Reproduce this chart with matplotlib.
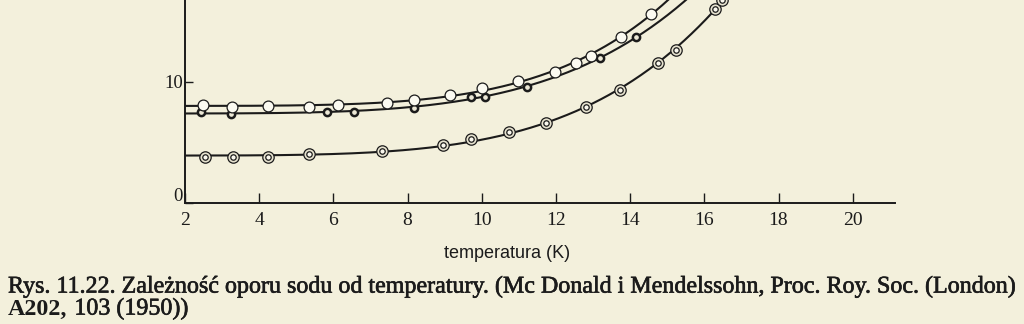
import numpy as np
import matplotlib
matplotlib.use("Agg")
import matplotlib.pyplot as plt
import matplotlib.patheffects as pe
from matplotlib.transforms import ScaledTranslation

# ---- data ----
# upper series: open circles
T_A = [2.49, 3.27, 4.23, 5.35, 6.13, 7.44, 8.18, 9.14, 10.0, 10.98, 11.97, 12.54, 12.94, 13.75, 14.56]
R_A = [8.12, 7.97, 8.01, 7.97, 8.06, 8.25, 8.55, 8.96, 9.50, 10.10, 10.84, 11.59, 12.15, 13.75, 15.66]
# middle series: small thick-ring circles
T_B = [2.42, 3.23, 5.82, 6.56, 8.18, 9.70, 10.09, 11.21, 13.19, 14.16]
R_B = [7.48, 7.38, 7.50, 7.55, 7.89, 8.78, 8.80, 9.59, 11.95, 13.73]
# lower series: double circles
T_C = [2.54, 3.30, 4.23, 5.34, 7.32, 8.96, 9.71, 10.73, 11.72, 12.80, 13.74, 14.74, 15.23, 16.29, 16.48]
R_C = [3.80, 3.83, 3.84, 4.05, 4.26, 4.79, 5.33, 5.86, 6.60, 7.93, 9.35, 11.55, 12.62, 16.00, 16.80]

x_ticks = [2, 4, 6, 8, 10, 12, 14, 16, 18, 20]
x_ticklabels = ["2", "4", "6", "8", "10", "12", "14", "16", "18", "20"]
y_ticks = [0, 10]
y_ticklabels = ["0", "10"]
x_label = "temperatura (K)"
caption_1 = ("Rys. 11.22. Zależność oporu sodu od temperatury. "
             "(Mc Donald i Mendelssohn, Proc. Roy. Soc. (London)")
caption_2a = "A202,"
caption_2b = "103 (1950))"

XMIN, XMAX = 2.0, 21.14
YMIN, YMAX = 0.0, 17.5

BG = "#f3f0dc"
INK = "#1b1b1b"


def fit_curve(T, R, x0, x1):
    """least-squares fit R = a + b*T**n (n by grid search), evaluated on [x0, x1]"""
    T = np.asarray(T, float)
    R = np.asarray(R, float)
    best = None
    for n in np.arange(2.0, 8.01, 0.05):
        X = np.column_stack([np.ones_like(T), T ** n])
        coef = np.linalg.lstsq(X, R, rcond=None)[0]
        err = np.sum((X @ coef - R) ** 2)
        if best is None or err < best[0]:
            best = (err, n, coef)
    _, n, (a, b) = best
    tg = np.linspace(x0, x1, 800)
    return tg, a + b * tg ** n


fig = plt.figure(figsize=(10.24, 3.24), dpi=100, facecolor=BG)
px_per_y = 12.1
ax_bottom = 121 / 324
ax_height = (YMAX - YMIN) * px_per_y / 324
ax = fig.add_axes([185 / 1024, ax_bottom, (895 - 185) / 1024, ax_height])
ax.set_facecolor(BG)
ax.set_xlim(XMIN, XMAX)
ax.set_ylim(YMIN, YMAX)

for s in ("top", "right"):
    ax.spines[s].set_visible(False)
for s in ("left", "bottom"):
    ax.spines[s].set_color(INK)
    ax.spines[s].set_linewidth(1.4)

# fitted curves
for T, R in ((T_A, R_A), (T_B, R_B), (T_C, R_C)):
    tg, rg = fit_curve(T, R, XMIN, XMAX)
    ax.plot(tg, rg, color=INK, lw=1.5, zorder=2, solid_capstyle="round")

# markers
ax.plot(T_A, R_A, "o", ms=7.8, mfc="#fbfaf1", mec=INK, mew=0.9, zorder=4, ls="none")
ax.plot(T_B, R_B, "o", ms=5.2, mfc="#ece8d6", mec=INK, mew=1.8, zorder=3, ls="none")
ax.plot(T_C, R_C, "o", ms=8.2, mfc="#e6e2cf", mec=INK, mew=0.9, zorder=4, ls="none")
ax.plot(T_C, R_C, "o", ms=3.9, mfc="#faf8ee", mec=INK, mew=0.9, zorder=5, ls="none")

bold_fx = [pe.withStroke(linewidth=0.45, foreground=INK)]
serif = ["Liberation Serif", "DejaVu Serif"]
ax.set_xticks(x_ticks)
ax.set_xticklabels(x_ticklabels, fontfamily=serif, fontsize=14, color=INK)
ax.set_yticks(y_ticks)
ax.set_yticklabels(y_ticklabels, fontfamily=serif, fontsize=13.5, color=INK)
ax.tick_params(axis="x", direction="in", length=7.5, width=1.0, color=INK, pad=6.5)
ax.tick_params(axis="y", direction="in", length=6, width=1.0, color=INK, pad=1.5)
# "0" label sits slightly above the axis line
for lab in ax.get_yticklabels():
    if lab.get_text() == "0":
        lab.set_transform(lab.get_transform() + ScaledTranslation(0, 6 / 72, fig.dpi_scale_trans))

fig.text(507 / 1024, 1 - 253 / 324, x_label, ha="center", va="center",
         fontfamily=["Liberation Sans", "DejaVu Sans"], fontsize=13, color=INK)

# caption
t1 = fig.text(8 / 1024, 1 - 287 / 324, caption_1, ha="left", va="center",
              fontfamily=serif, fontsize=16, color=INK)
fig.canvas.draw()
w = t1.get_window_extent().width
fs = 16 * (1008 / w)
t1.set_fontsize(fs)
t1.set_path_effects(bold_fx)
t2 = fig.text(8 / 1024, 1 - 309 / 324, caption_2a, ha="left", va="center",
              fontfamily=serif, fontsize=fs, fontweight="bold", color=INK)
t3 = ax.annotate(caption_2b, xy=(1, 0.5), xycoords=t2, xytext=(5, 0), textcoords="offset points",
                 ha="left", va="center", fontfamily=serif, fontsize=fs, color=INK,
                 annotation_clip=False)
t3.set_path_effects(bold_fx)

fig.savefig("out.png", dpi=100, facecolor=BG)
